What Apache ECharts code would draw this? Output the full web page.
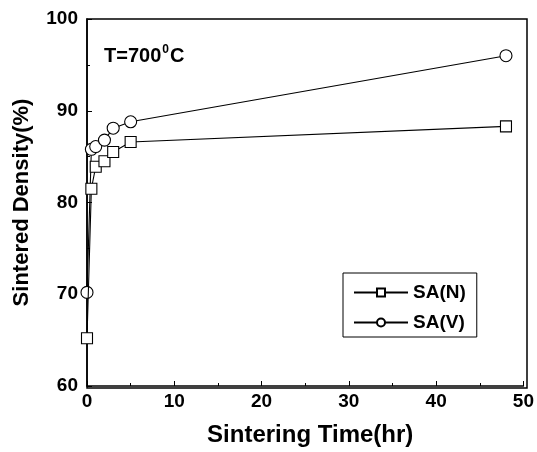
<!DOCTYPE html>
<html>
<head>
<meta charset="utf-8">
<script src="https://cdn.jsdelivr.net/npm/echarts@6/dist/echarts.min.js"></script>
<style>
  html, body { margin: 0; padding: 0; background: #fff; }
  #main { width: 537px; height: 452px; }
</style>
</head>
<body>
<div id="main"></div>
<script>
// sintering time (hr)
var timeN = [0, 0.5, 1, 2, 3, 5, 48];
var densN = [65.2, 81.5, 83.9, 84.5, 85.5, 86.6, 88.3];
var timeV = [0, 0.5, 1, 2, 3, 5, 48];
var densV = [70.2, 85.8, 86.1, 86.8, 88.1, 88.8, 96.0];

var xTicks = [0, 10, 20, 30, 40, 50];
var yTicks = [60, 70, 80, 90, 100];

function pairs(xs, ys) {
  var out = [];
  for (var i = 0; i < xs.length; i++) {
    out.push([xs[i], ys[i]]);
  }
  return out;
}

var font = 'Liberation Sans, Arial, sans-serif';
var chart = echarts.init(document.getElementById('main'), null, { renderer: 'canvas' });

var option = {
  backgroundColor: '#fff',
  animation: false,
  grid: { left: 87, right: 10, top: 19, bottom: 64, show: false },
  xAxis: {
    type: 'value',
    min: xTicks[0],
    max: xTicks[xTicks.length - 1],
    interval: 10,
    name: 'Sintering Time(hr)',
    nameLocation: 'middle',
    nameGap: 37,
    nameTextStyle: { fontFamily: font, fontWeight: 'bold', fontSize: 24, color: '#000', padding: [0, 0, 0, 10] },
    axisLine: { show: true, onZero: false, lineStyle: { color: '#000', width: 1.5 } },
    axisTick: { show: true, inside: true, length: 5, lineStyle: { color: '#000' } },
    minorTick: { show: true, splitNumber: 2, length: 3, lineStyle: { color: '#000' } },
    axisLabel: { fontFamily: font, fontWeight: 'bold', fontSize: 19, color: '#000', margin: 6 },
    splitLine: { show: false }
  },
  yAxis: {
    type: 'value',
    min: yTicks[0],
    max: yTicks[yTicks.length - 1],
    interval: 10,
    name: 'Sintered Density(%)',
    nameLocation: 'middle',
    nameGap: 54,
    nameTextStyle: { fontFamily: font, fontWeight: 'bold', fontSize: 22, color: '#000' },
    axisLine: { show: true, onZero: false, lineStyle: { color: '#000', width: 1.5 } },
    axisTick: { show: true, inside: true, length: 5, lineStyle: { color: '#000' } },
    minorTick: { show: true, splitNumber: 2, length: 3, lineStyle: { color: '#000' } },
    axisLabel: { fontFamily: font, fontWeight: 'bold', fontSize: 19, color: '#000', margin: 9 },
    splitLine: { show: false }
  },
  legend: {
    left: 343,
    top: 273,
    orient: 'vertical',
    padding: [10, 11, 5, 10],
    itemGap: 11,
    itemWidth: 54,
    itemHeight: 10,
    borderColor: '#000',
    borderWidth: 1,
    textStyle: { fontFamily: font, fontWeight: 'bold', fontSize: 19, color: '#000' },
    data: ['SA(N)', 'SA(V)']
  },
  graphic: [
    {
      type: 'rect',
      shape: { x: 87, y: 19, width: 440, height: 369 },
      style: { fill: 'none', stroke: '#000', lineWidth: 1.5 },
      silent: true
    },
    {
      type: 'text',
      left: 104,
      top: 44,
      style: {
        text: '{a|T=700}{s|0}{a|C}',
        rich: {
          a: { fontFamily: font, fontWeight: 'bold', fontSize: 20, fill: '#000', verticalAlign: 'bottom' },
          s: { fontFamily: font, fontWeight: 'bold', fontSize: 12, fill: '#000', verticalAlign: 'top', padding: [0, 1, 10, 1] }
        }
      }
    }
  ],
  series: [
    {
      name: 'SA(N)',
      type: 'line',
      data: pairs(timeN, densN),
      symbol: 'rect',
      symbolSize: 11,
      showAllSymbol: true,
      lineStyle: { color: '#000', width: 1.1 },
      itemStyle: { color: '#fff', borderColor: '#000', borderWidth: 1.1 },
      z: 3
    },
    {
      name: 'SA(V)',
      type: 'line',
      data: pairs(timeV, densV),
      symbol: 'circle',
      symbolSize: 12,
      showAllSymbol: true,
      lineStyle: { color: '#000', width: 1.1 },
      itemStyle: { color: '#fff', borderColor: '#000', borderWidth: 1.1 },
      z: 2
    }
  ]
};

chart.setOption(option);
</script>
</body>
</html>
